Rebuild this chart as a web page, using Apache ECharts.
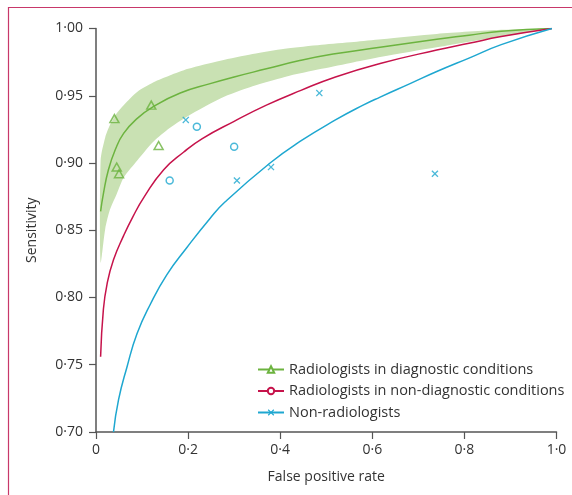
<!DOCTYPE html>
<html>
<head>
<meta charset="utf-8">
<title>SROC</title>
<script src="https://cdn.jsdelivr.net/npm/echarts@6/dist/echarts.min.js"></script>
<style>
    html, body { margin: 0; padding: 0; background: #fff; }
    #sroc { width: 572px; height: 495px; }
</style>
</head>
<body>
<div id="sroc"></div>
<script>
// 曲线读数 (false positive rate, sensitivity)
var diagFpr  = [0.01, 0.016, 0.027, 0.042, 0.06, 0.089, 0.125, 0.183, 0.248, 0.30, 0.37, 0.44, 0.515, 0.617, 0.74, 0.81, 0.88, 0.99];
var diagSens = [0.864, 0.877, 0.895, 0.910, 0.922, 0.933, 0.942, 0.952, 0.959, 0.964, 0.970, 0.976, 0.981, 0.986, 0.992, 0.995, 0.998, 1.0];

var bandFpr   = [0.01, 0.02, 0.03, 0.045, 0.06, 0.09, 0.125, 0.16, 0.2, 0.27, 0.34, 0.41, 0.49, 0.56, 0.62, 0.74, 0.88, 0.99];
var bandUpper = [0.902, 0.919, 0.928, 0.937, 0.943, 0.953, 0.960, 0.965, 0.970, 0.976, 0.981, 0.985, 0.988, 0.990, 0.992, 0.996, 0.999, 1.0];
var bandLower = [0.826, 0.851, 0.865, 0.877, 0.889, 0.902, 0.916, 0.926, 0.935, 0.948, 0.957, 0.964, 0.970, 0.975, 0.979, 0.986, 0.994, 1.0];

var nonDiagFpr  = [0.01, 0.016, 0.024, 0.038, 0.06, 0.08, 0.105, 0.147, 0.19, 0.23, 0.30, 0.37, 0.445, 0.52, 0.617, 0.74, 0.81, 0.88, 0.99];
var nonDiagSens = [0.756, 0.791, 0.810, 0.828, 0.846, 0.860, 0.875, 0.895, 0.908, 0.918, 0.931, 0.943, 0.954, 0.964, 0.974, 0.984, 0.989, 0.994, 1.0];

var nonRadFpr  = [0.038, 0.049, 0.067, 0.089, 0.118, 0.154, 0.197, 0.248, 0.28, 0.378, 0.443, 0.52, 0.58, 0.617, 0.682, 0.74, 0.81, 0.88, 0.99];
var nonRadSens = [0.700, 0.724, 0.748, 0.773, 0.795, 0.817, 0.837, 0.859, 0.871, 0.900, 0.916, 0.932, 0.943, 0.949, 0.959, 0.968, 0.978, 0.988, 1.0];

// 研究点
var diagPtFpr   = [0.040, 0.120, 0.136, 0.045, 0.050];
var diagPtSens  = [0.933, 0.943, 0.913, 0.897, 0.892];
var nonDiagPtFpr  = [0.219, 0.160, 0.300];
var nonDiagPtSens = [0.927, 0.887, 0.912];
var nonRadPtFpr  = [0.195, 0.306, 0.380, 0.485, 0.736];
var nonRadPtSens = [0.932, 0.887, 0.897, 0.952, 0.892];

var names = ['Radiologists in diagnostic conditions', 'Radiologists in non-diagnostic conditions', 'Non-radiologists'];

var GREEN = '#6cb33f';
var BAND = '#c9e1b3';
var RED = '#c6134b';
var BLUE = '#1ea7d0';
var TEXT = '#333';
var AXIS = '#555';
var FONT = 'Open Sans';
var FS = 14;
var CROSS = 'path://M0,1.3L1.3,0L5,3.7L8.7,0L10,1.3L6.3,5L10,8.7L8.7,10L5,6.3L1.3,10L0,8.7L3.7,5Z';
var SMOOTH = 0.5;

function pairs(xs, ys) {
    var out = [];
    for (var i = 0; i < xs.length; i++) {
        out.push([xs[i], ys[i]]);
    }
    return out;
}

function dot(v, n) {
    if (v === 0) return '0';
    return v.toFixed(n).replace('.', '·');
}

// 置信带多边形：上界正向 + 下界反向
function renderBand(params, api) {
    if (params.dataIndex !== 0) return;
    var pts = [];
    var i;
    for (i = 0; i < bandFpr.length; i++) {
        pts.push(api.coord([bandFpr[i], bandUpper[i]]));
    }
    for (i = bandFpr.length - 1; i >= 0; i--) {
        pts.push(api.coord([bandFpr[i], bandLower[i]]));
    }
    return {
        type: 'polygon',
        shape: { points: pts, smooth: 0.25 },
        style: { fill: BAND, stroke: null }
    };
}

var chart = echarts.init(document.getElementById('sroc'));
var option = {
    animation: false,
    textStyle: { fontFamily: FONT },
    grid: {
        left: 96,
        right: 15.5,
        top: 28.5,
        bottom: 63,
        outerBoundsMode: 'none'
    },
    legend: {
        data: names,
        orient: 'vertical',
        left: 252,
        top: 357,
        itemWidth: 26,
        itemHeight: 8,
        itemGap: 6.5,
        selectedMode: false,
        textStyle: { color: TEXT, fontSize: 14.5, fontFamily: FONT }
    },
    xAxis: {
        type: 'value',
        min: 0,
        max: 1,
        interval: 0.2,
        name: 'False positive rate',
        nameLocation: 'middle',
        nameGap: 38,
        nameTextStyle: { color: TEXT, fontSize: FS, fontFamily: FONT },
        axisLine: { lineStyle: { color: AXIS, width: 1.5 } },
        axisTick: { length: 7, lineStyle: { color: AXIS, width: 1.2 } },
        axisLabel: {
            color: TEXT, fontSize: FS, margin: 11,
            formatter: function(v) { return dot(v, 1); }
        },
        splitLine: { show: false }
    },
    yAxis: {
        type: 'value',
        min: 0.7,
        max: 1.0,
        interval: 0.05,
        name: 'Sensitivity',
        nameLocation: 'middle',
        nameGap: 57,
        nameTextStyle: { color: TEXT, fontSize: FS, fontFamily: FONT },
        axisLine: { show: true, lineStyle: { color: AXIS, width: 1.5 } },
        axisTick: { show: true, length: 7, lineStyle: { color: AXIS, width: 1.2 } },
        axisLabel: {
            color: TEXT, fontSize: FS, margin: 13,
            formatter: function(v) { return dot(v, 2); }
        },
        splitLine: { show: false }
    },
    graphic: [{
        type: 'polyline',
        silent: true,
        shape: { points: [[8.5, 495], [8.5, 7.5], [572, 7.5]] },
        style: { stroke: '#c8386a', lineWidth: 1.2, fill: null }
    }],
    series: [
        {
            name: 'band',
            type: 'custom',
            data: pairs(bandFpr, bandUpper),
            renderItem: renderBand,
            silent: true,
            clip: true,
            z: 1
        },
        {
            name: names[0],
            type: 'line',
            data: pairs(diagFpr, diagSens),
            smooth: SMOOTH,
            symbol: 'emptyTriangle',
            showSymbol: false,
            color: GREEN,
            lineStyle: { color: GREEN, width: 1.5 },
            z: 3
        },
        {
            name: names[1],
            type: 'line',
            data: pairs(nonDiagFpr, nonDiagSens),
            smooth: SMOOTH,
            symbol: 'emptyCircle',
            showSymbol: false,
            color: RED,
            lineStyle: { color: RED, width: 1.5 },
            z: 3
        },
        {
            name: names[2],
            type: 'line',
            data: pairs(nonRadFpr, nonRadSens),
            smooth: SMOOTH,
            symbol: CROSS,
            showSymbol: false,
            color: BLUE,
            lineStyle: { color: BLUE, width: 1.5 },
            z: 3
        },
        {
            name: 'diagPts',
            type: 'scatter',
            data: pairs(diagPtFpr, diagPtSens),
            symbol: 'triangle',
            symbolSize: [9, 8],
            itemStyle: { color: 'transparent', borderColor: GREEN, borderWidth: 1.5 },
            z: 4
        },
        {
            name: 'nonDiagPts',
            type: 'scatter',
            data: pairs(nonDiagPtFpr, nonDiagPtSens),
            symbol: 'circle',
            symbolSize: 7,
            itemStyle: { color: 'transparent', borderColor: BLUE, borderWidth: 1.5 },
            z: 4
        },
        {
            name: 'nonRadPts',
            type: 'scatter',
            data: pairs(nonRadPtFpr, nonRadPtSens),
            symbol: CROSS,
            symbolSize: 7,
            itemStyle: { color: BLUE },
            z: 4
        }
    ]
};
chart.setOption(option);
</script>
</body>
</html>
